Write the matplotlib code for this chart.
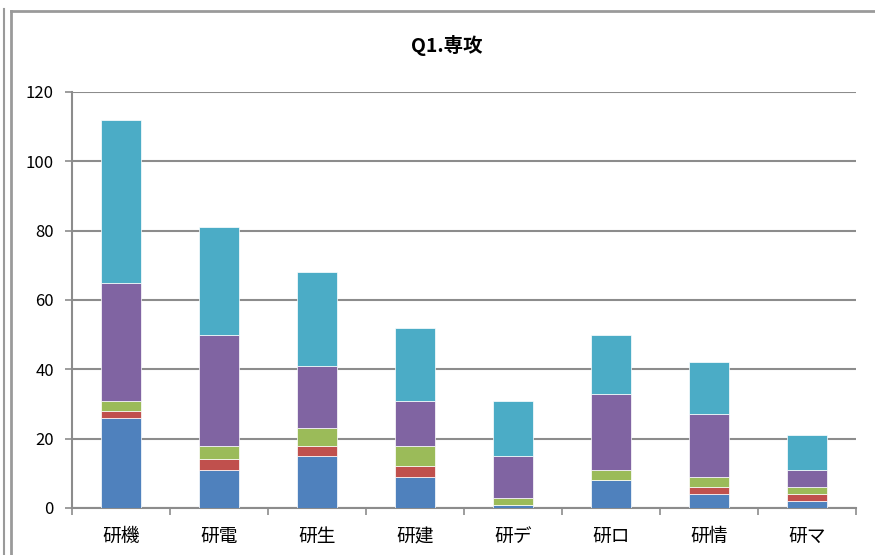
import matplotlib
matplotlib.use("Agg")
import matplotlib.pyplot as plt
from matplotlib.lines import Line2D
import numpy as np

plt.rcParams['font.family'] = ['Noto Sans CJK JP', 'DejaVu Sans']

categories = ["研機", "研電", "研生", "研建", "研デ", "研ロ", "研情", "研マ"]
s1 = [26, 11, 15, 9, 1, 8, 4, 2]
s2 = [2, 3, 3, 3, 0, 0, 2, 2]
s3 = [3, 4, 5, 6, 2, 3, 3, 2]
s4 = [34, 32, 18, 13, 12, 22, 18, 5]
s5 = [47, 31, 27, 21, 16, 17, 15, 10]
series = [s1, s2, s3, s4, s5]
colors = ["#4F81BD", "#C0504D", "#9BBB59", "#8064A2", "#4BACC6"]
title = "Q1.専攻"
yticks = [0, 20, 40, 60, 80, 100, 120]

W, H = 875, 555
fig = plt.figure(figsize=(W / 100, H / 100), dpi=100)
ax = fig.add_axes([72 / W, 1 - 508 / H, (856 - 72) / W, (508 - 92) / H])

x = np.arange(len(categories))
bottom = np.zeros(len(categories))
for vals, c in zip(series, colors):
    ax.bar(x, vals, bottom=bottom, width=0.4, color=c, edgecolor="white",
           linewidth=0.5, zorder=3)
    bottom += np.array(vals)

ax.set_xlim(-0.5, len(categories) - 0.5)
ax.set_ylim(0, 120)
ax.set_yticks(yticks)
ax.set_yticklabels([str(v) for v in yticks], fontsize=12)
ax.yaxis.grid(True, color="#8C8C8C", linewidth=1.5, zorder=1)
ax.set_xticks(x)
ax.set_xticklabels(categories, fontsize=13.5)
ax.set_xticks(np.arange(-0.5, len(categories)), minor=True)
ax.tick_params(axis="x", which="major", length=0, pad=13)
ax.tick_params(axis="x", which="minor", length=5, color="#8C8C8C", width=1.2)
ax.tick_params(axis="y", length=5, color="#8C8C8C", width=1.2, pad=8)
for s in ["top", "right"]:
    ax.spines[s].set_visible(False)
for s in ["left", "bottom"]:
    ax.spines[s].set_color("#8C8C8C")
    ax.spines[s].set_linewidth(1.5)

fig.text(447 / W, 1 - 45 / H, title, ha="center", va="center",
         fontsize=14, fontweight="bold")

# chart frame lines
frame_col = "#9A9A9A"
fig.add_artist(Line2D([10.5 / W, 1], [1 - 10.5 / H] * 2, color=frame_col, lw=2))
fig.add_artist(Line2D([10.5 / W] * 2, [0, 1 - 10.5 / H], color=frame_col, lw=2))
fig.add_artist(Line2D([4 / W] * 2, [0, 1 - 9 / H], color=frame_col, lw=1.5))

fig.savefig("out.png", dpi=100)
